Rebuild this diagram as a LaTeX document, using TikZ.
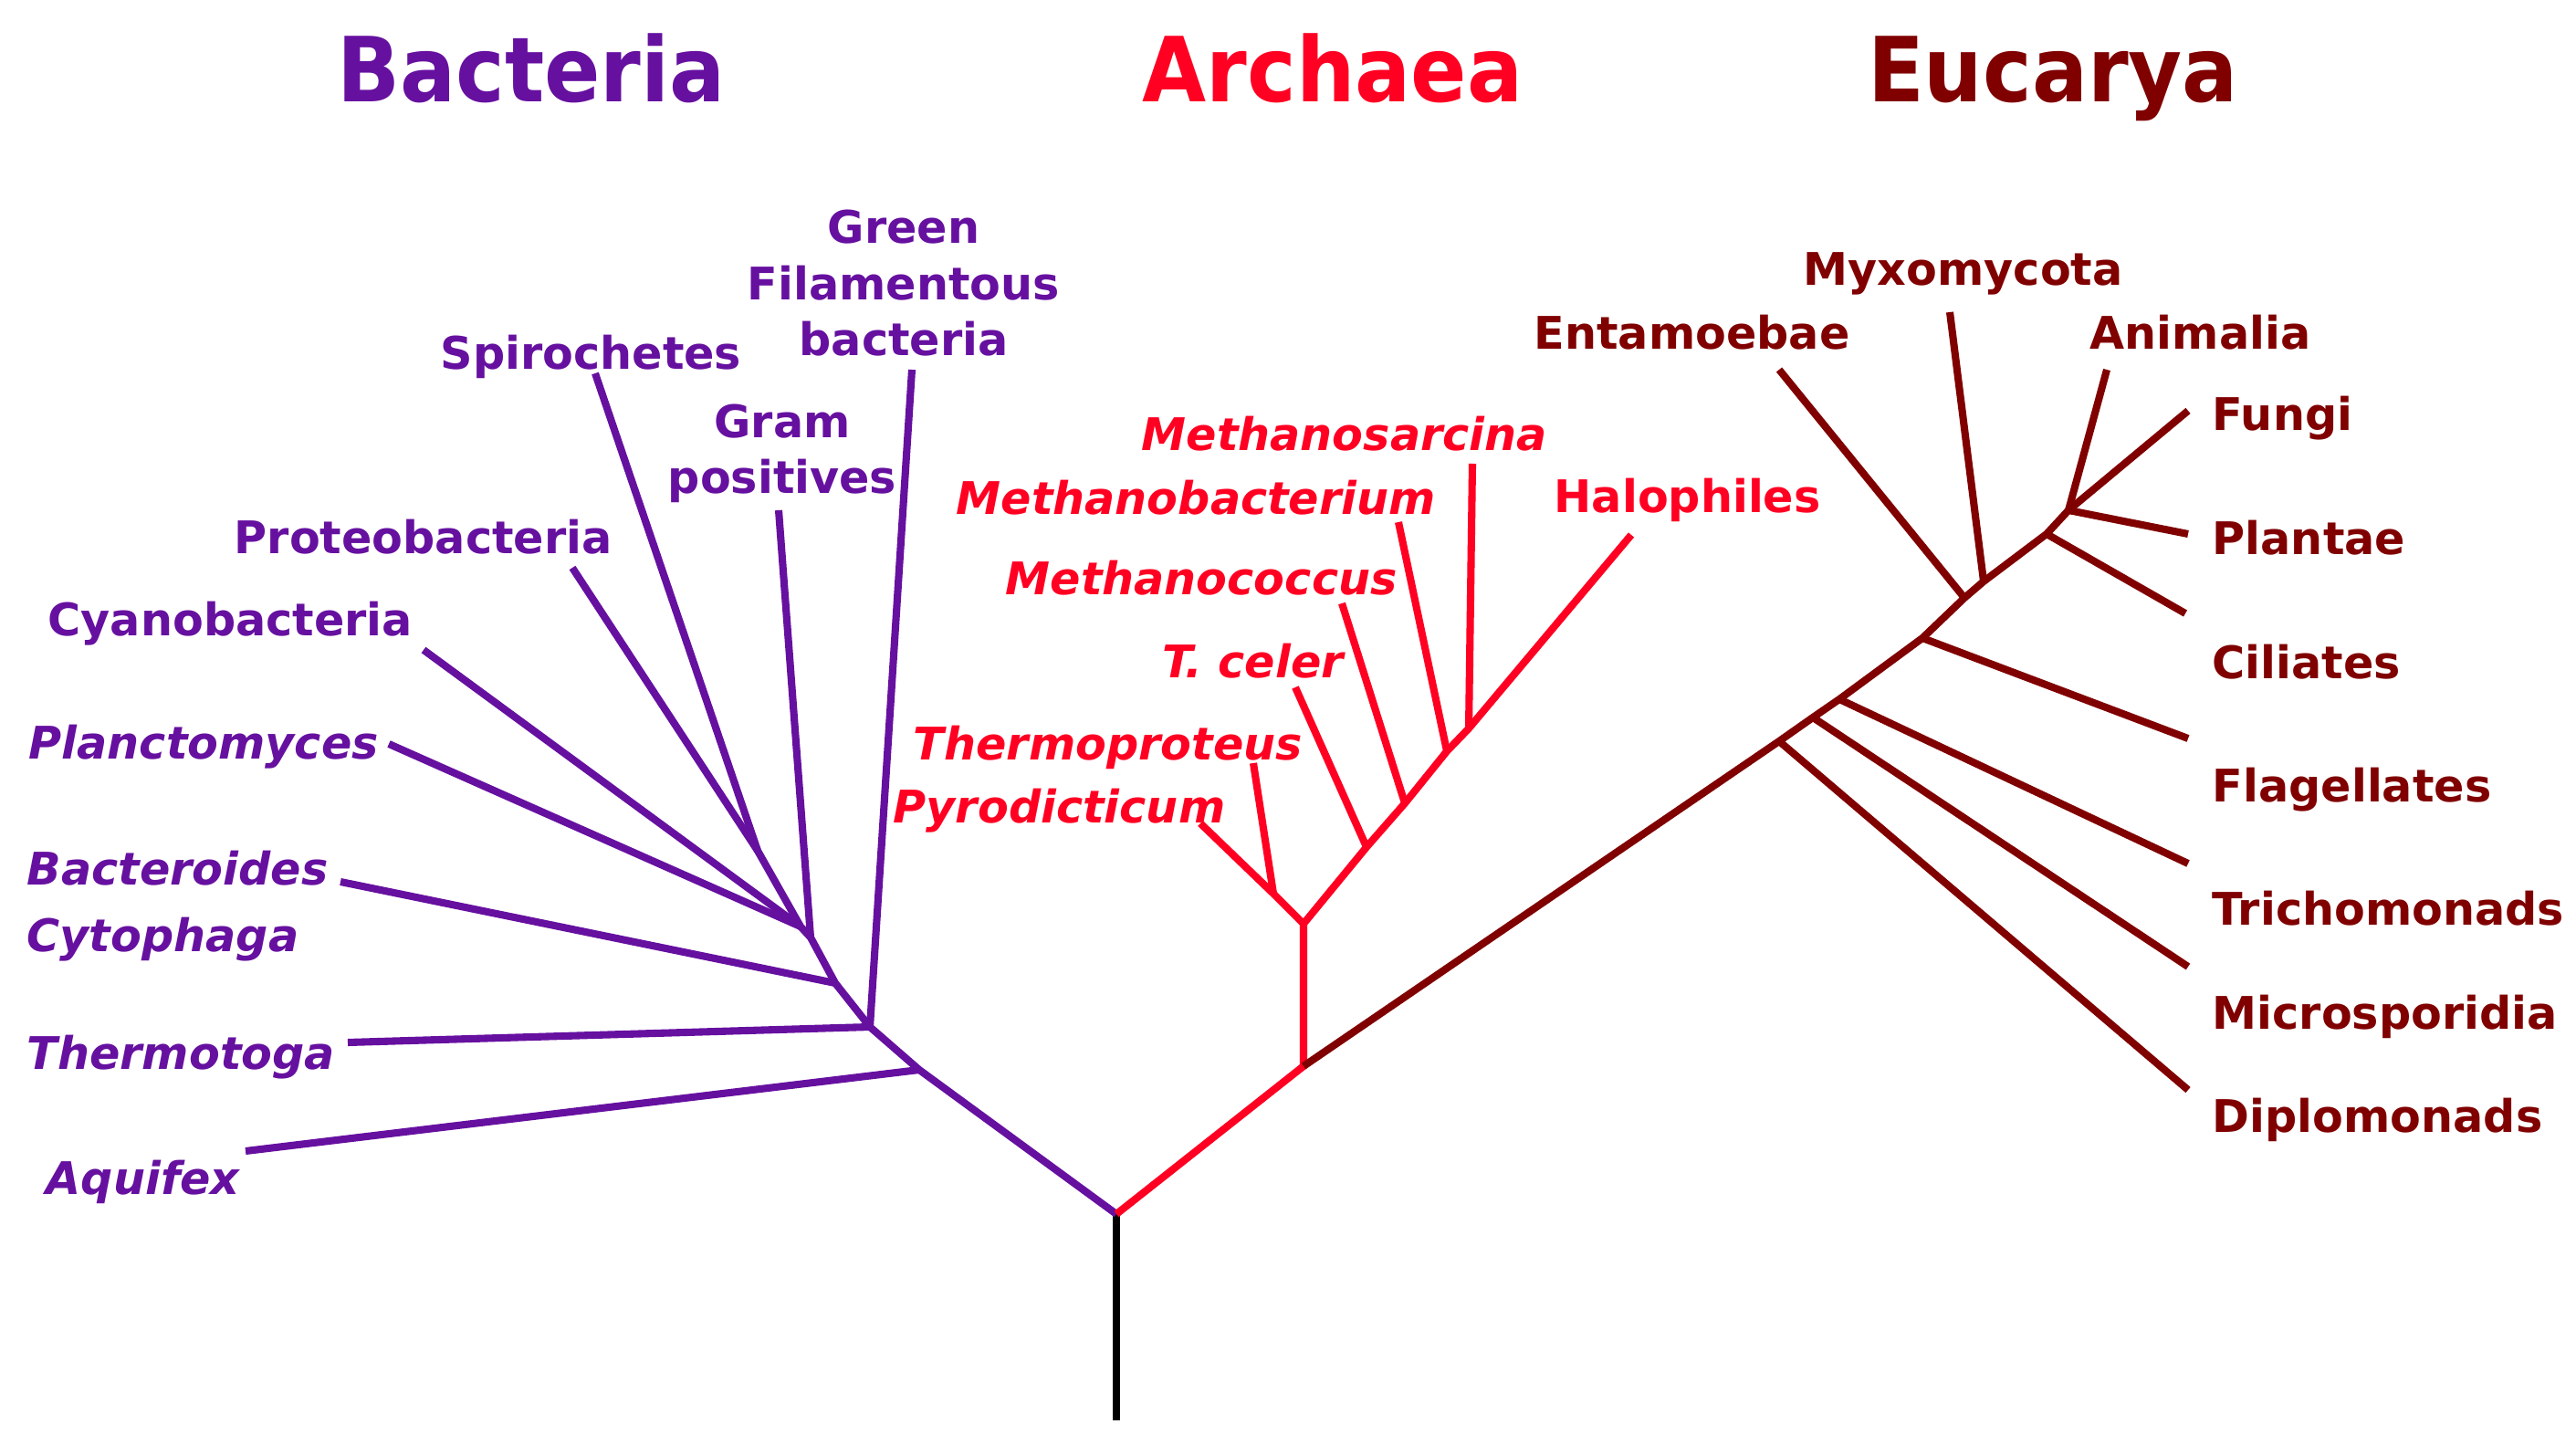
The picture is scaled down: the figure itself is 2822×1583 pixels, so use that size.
\documentclass[tikz,border=0pt]{standalone}
\usepackage{fontspec}
\setmainfont{DejaVu Sans}
\newfontfamily\titlefont[FakeStretch=0.92]{DejaVu Sans}
\definecolor{bact}{RGB}{102,16,160}
\definecolor{arch}{RGB}{255,0,34}
\definecolor{euca}{RGB}{128,0,0}

\begin{document}
\begin{tikzpicture}[x=0.01cm,y=-0.01cm,
		branch/.style={line width=2.3pt},
		taxon/.style={font=\fontsize{14}{17.6}\selectfont\bfseries,inner sep=0pt},
		genus/.style={font=\fontsize{14}{17.6}\selectfont\bfseries\itshape,inner sep=0pt},
		domtitle/.style={font=\titlefont\fontsize{28}{30}\selectfont\bfseries,inner sep=0pt,anchor=base}]
	\useasboundingbox (0,0) rectangle (2822,1583);
	% domains
	\node[domtitle,bact] (tbact) at (582,112) {Bacteria};
	\node[domtitle,arch] (tarch) at (1460,112) {Archaea};
	\node[domtitle,euca] (teuca) at (2249,112) {Eucarya};
	% root
	\coordinate (root) at (1223,1556);
	\coordinate (r) at (1223,1330);
	\draw[branch,black] (root) -- (r);
	% bacteria: inner nodes and tips
	\foreach \n/\x/\y in {b1/1007/1172,b2/953/1125,b3/915/1077,b4/888/1027,b5/877/1015,b6/830/932,
			aqu/269/1261,the/381/1142,bac/373/966,gre/999/405,gra/853/559,cya/464/712,pla/426/815,pro/627/622,spi/652/409}
		\coordinate (\n) at (\x,\y);
	\draw[branch,bact] (r) -- (b1) -- (b2) -- (b3) -- (b4) -- (b5) -- (b6) -- (spi);
	\draw[branch,bact] (b1) -- (aqu);
	\draw[branch,bact] (b2) -- (the);
	\draw[branch,bact] (b2) -- (gre);
	\draw[branch,bact] (b3) -- (bac);
	\draw[branch,bact] (b4) -- (gra);
	\draw[branch,bact] (b5) -- (cya);
	\draw[branch,bact] (b5) -- (pla);
	\draw[branch,bact] (b6) -- (pro);
	\node[taxon,bact,anchor=base,align=center] (lgre) at (990,390) {Green\\Filamentous\\bacteria};
	\node[taxon,bact,anchor=base,align=center] (lgra) at (857,541) {Gram\\positives};
	\foreach \n/\x/\y/\t in {lspi/482/405/Spirochetes,lpro/256/607/Proteobacteria,lcya/52/697/Cyanobacteria}
		\node[taxon,bact,anchor=base west] (\n) at (\x,\y) {\t};
	\foreach \n/\x/\y/\t in {lpla/31/832/Planctomyces,lbac/29/969/Bacteroides,lcyt/29/1042/Cytophaga,
			lthe/29/1171/Thermotoga,laqu/50/1308/Aquifex}
		\node[genus,bact,anchor=base west] (\n) at (\x,\y) {\t};
	% archaea
	\foreach \n/\x/\y in {a1/1428/1168,a2/1428/1012,a3/1395/979,a4/1497/928,a5/1539/880,a6/1585/823,a7/1609/798,
			pyr/1315/902,thp/1373/836,tce/1419/753,mco/1470/661,mba/1532/572,msa/1613/508,hal/1787/586}
		\coordinate (\n) at (\x,\y);
	\draw[branch,arch] (r) -- (a1) -- (a2) -- (a4) -- (a5) -- (a6) -- (a7) -- (hal);
	\draw[branch,arch] (a2) -- (a3) -- (pyr);
	\draw[branch,arch] (a3) -- (thp);
	\draw[branch,arch] (a4) -- (tce);
	\draw[branch,arch] (a5) -- (mco);
	\draw[branch,arch] (a6) -- (mba);
	\draw[branch,arch] (a7) -- (msa);
	\foreach \n/\x/\y/\t in {lmsa/1250/494/Methanosarcina,lmba/1047/564/Methanobacterium,lmco/1101/652/Methanococcus,
			ltce/1273/743/T. celer,lthp/1000/833/Thermoproteus,lpyr/978/902/Pyrodicticum}
		\node[genus,arch,anchor=base west] (\n) at (\x,\y) {\t};
	\node[taxon,arch,anchor=base west] (lhal) at (1702,562) {Halophiles};
	% eucarya
	\foreach \n/\x/\y in {e1/1949/812,e2/1986/786,e3/2015/766,e4/2106/699,e5/2152/655,e6/2173/637,e7/2242/585,e8/2266/559,
			dip/2397/1194,mic/2397/1059,tri/2397/946,fla/2397/809,ent/1949/405,myx/2136/342,cil/2394/672,plt/2397/585,fun/2397/450,ani/2308/405}
		\coordinate (\n) at (\x,\y);
	\draw[branch,euca] (a1) -- (e1) -- (e2) -- (e3) -- (e4) -- (e5) -- (e6) -- (e7) -- (e8) -- (fun);
	\draw[branch,euca] (e1) -- (dip);
	\draw[branch,euca] (e2) -- (mic);
	\draw[branch,euca] (e3) -- (tri);
	\draw[branch,euca] (e4) -- (fla);
	\draw[branch,euca] (e5) -- (ent);
	\draw[branch,euca] (e6) -- (myx);
	\draw[branch,euca] (e7) -- (cil);
	\draw[branch,euca] (e8) -- (plt);
	\draw[branch,euca] (e8) -- (ani);
	\foreach \n/\x/\y/\t in {lent/1680/383/Entamoebae,lmyx/1975/313/Myxomycota,lani/2289/383/Animalia,
			lfun/2423/472/Fungi,lplt/2423/608/Plantae,lcil/2423/744/Ciliates,lfla/2423/879/Flagellates,
			ltri/2423/1013/Trichomonads,lmic/2423/1127/Microsporidia,ldip/2423/1240/Diplomonads}
		\node[taxon,euca,anchor=base west] (\n) at (\x,\y) {\t};
\end{tikzpicture}
\end{document}
